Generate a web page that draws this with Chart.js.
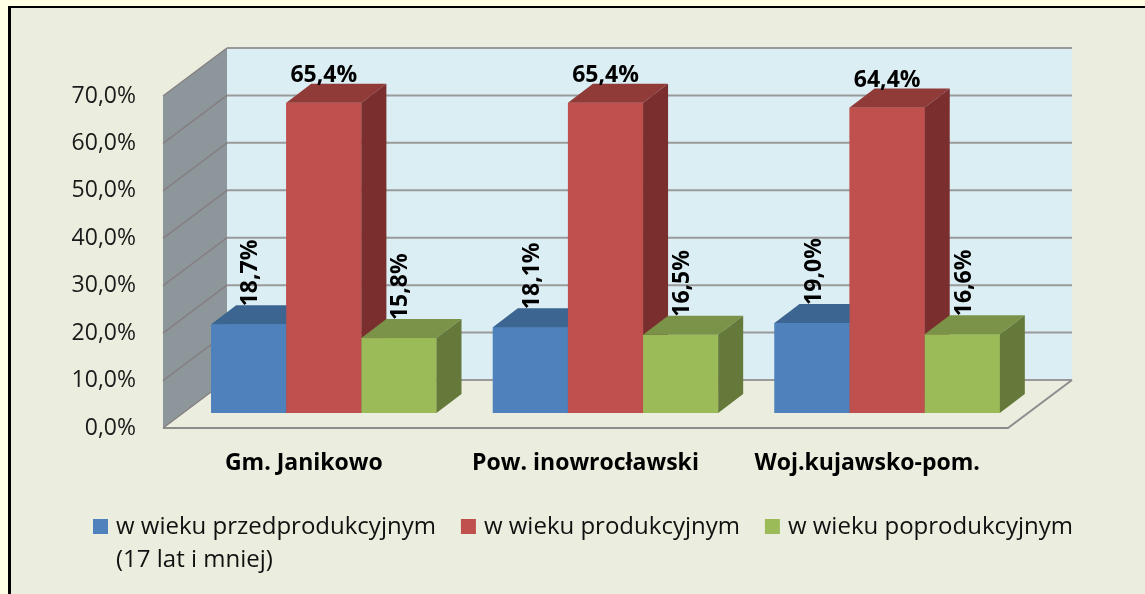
<!DOCTYPE html>
<html>
<head>
<meta charset="utf-8">
<script src="https://cdn.jsdelivr.net/npm/chart.js@4.4.1/dist/chart.umd.min.js"></script>
<style>
  html, body { margin: 0; padding: 0; background: #FFFFE3; overflow: hidden; }
  #ramka { position: absolute; left: 8px; top: 6px; width: 1200px; height: 700px;
           border-left: 3px solid #000; border-top: 2px solid #000; background: #EBEEDE; }
  #wykres { position: absolute; left: 0; top: 0; }
</style>
</head>
<body>
<div id="ramka"></div>
<canvas id="wykres" width="1145" height="594"></canvas>
<script>
const kategorie = ['Gm. Janikowo', 'Pow. inowrocławski', 'Woj.kujawsko-pom.'];
const przedprodukcyjny = [18.7, 18.1, 19.0];
const produkcyjny = [65.4, 65.4, 64.4];
const poprodukcyjny = [15.8, 16.5, 16.6];
const serie = ['w wieku przedprodukcyjnym', 'w wieku produkcyjnym', 'w wieku poprodukcyjnym'];
const dopiski = ['(17 lat i mniej)', '', ''];
const osY = [0, 10, 20, 30, 40, 50, 60, 70];

const kolory = {
    przod: ['#4F81BD', '#C0504D', '#9BBB59'],
    gora: ['#3D6591', '#913B39', '#7A9348'],
    bok: ['#385D86', '#7A2F2E', '#657A3A']
};

// przesuniecia rzutu 3D (plaszczyzna slupkow = chartArea)
const GLEB = { dx: 25, dy: -19 };
const PRZOD = { dx: -20, dy: 15 };
const TYL = { dx: 44, dy: -33 };

const FONT = 'Open Sans';
const proc = v => v.toFixed(1).replace('.', ',') + '%';

const efekt3d = {
    id: 'efekt3d',
    beforeDatasetsDraw(chart) {
        const { ctx, chartArea: a, scales: { y } } = chart;
        const y0 = y.getPixelForValue(0), yMax = y.getPixelForValue(y.max);
        ctx.save();
        // tylna sciana
        ctx.fillStyle = '#DBEEF4';
        ctx.fillRect(a.left + TYL.dx, yMax + TYL.dy, a.right - a.left, y0 - yMax);
        // boczna sciana
        ctx.fillStyle = '#8D979B';
        ctx.beginPath();
        ctx.moveTo(a.left + PRZOD.dx, yMax + PRZOD.dy);
        ctx.lineTo(a.left + TYL.dx, yMax + TYL.dy);
        ctx.lineTo(a.left + TYL.dx, y0 + TYL.dy);
        ctx.lineTo(a.left + PRZOD.dx, y0 + PRZOD.dy);
        ctx.closePath();
        ctx.fill();
        // siatka
        y.ticks.forEach(t => {
            const py = y.getPixelForValue(t.value);
            ctx.strokeStyle = '#9A9A9A';
            ctx.lineWidth = 2;
            ctx.beginPath();
            ctx.moveTo(a.left + TYL.dx, py + TYL.dy);
            ctx.lineTo(a.right + TYL.dx, py + TYL.dy);
            ctx.stroke();
            ctx.strokeStyle = '#867F81';
            ctx.lineWidth = 1.5;
            ctx.beginPath();
            ctx.moveTo(a.left + PRZOD.dx, py + PRZOD.dy);
            ctx.lineTo(a.left + TYL.dx, py + TYL.dy);
            ctx.stroke();
        });
        // podloga
        ctx.strokeStyle = '#8C8C8C';
        ctx.lineWidth = 2;
        ctx.beginPath();
        ctx.moveTo(a.left + PRZOD.dx, y0 + PRZOD.dy);
        ctx.lineTo(a.right + PRZOD.dx, y0 + PRZOD.dy);
        ctx.lineTo(a.right + TYL.dx, y0 + TYL.dy);
        ctx.stroke();
        ctx.restore();
    },
    afterDatasetsDraw(chart) {
        const { ctx } = chart;
        const n = chart.data.datasets.length;
        ctx.save();
        // slupki od lewej do prawej, zeby kolejny przykrywal bok poprzedniego
        kategorie.forEach((k, j) => {
            for (let i = 0; i < n; i++) {
                const el = chart.getDatasetMeta(i).data[j];
                const { x, y, base, width } = el.getProps(['x', 'y', 'base', 'width'], true);
                const l = x - width / 2, r = x + width / 2;
                ctx.fillStyle = kolory.przod[i];
                ctx.fillRect(l, y, width, base - y);
                ctx.fillStyle = kolory.gora[i];
                ctx.beginPath();
                ctx.moveTo(l, y);
                ctx.lineTo(l + GLEB.dx, y + GLEB.dy);
                ctx.lineTo(r + GLEB.dx, y + GLEB.dy);
                ctx.lineTo(r, y);
                ctx.closePath();
                ctx.fill();
                ctx.fillStyle = kolory.bok[i];
                ctx.beginPath();
                ctx.moveTo(r, y);
                ctx.lineTo(r + GLEB.dx, y + GLEB.dy);
                ctx.lineTo(r + GLEB.dx, base + GLEB.dy);
                ctx.lineTo(r, base);
                ctx.closePath();
                ctx.fill();
            }
        });
        // etykiety wartosci
        ctx.fillStyle = '#000';
        ctx.font = 'bold 23px "' + FONT + '"';
        chart.data.datasets.forEach((ds, i) => {
            chart.getDatasetMeta(i).data.forEach((el, j) => {
                const txt = proc(ds.data[j]);
                if (i === 1) {
                    ctx.textAlign = 'center';
                    ctx.textBaseline = 'alphabetic';
                    ctx.fillText(txt, el.x, el.y - 21);
                } else {
                    ctx.save();
                    ctx.translate(el.x + 2, el.y - 18);
                    ctx.rotate(-Math.PI / 2);
                    ctx.textAlign = 'left';
                    ctx.textBaseline = 'middle';
                    ctx.fillText(txt, 0, 0);
                    ctx.restore();
                }
            });
        });
        ctx.restore();
    },
    afterDraw(chart) {
        // legenda
        const { ctx } = chart;
        ctx.save();
        ctx.font = '24px "' + FONT + '"';
        ctx.textAlign = 'left';
        ctx.textBaseline = 'alphabetic';
        let x = 93;
        serie.forEach((s, i) => {
            ctx.fillStyle = kolory.przod[i];
            ctx.fillRect(x, 519, 15, 15);
            ctx.fillStyle = '#111';
            ctx.fillText(s, x + 23, 534);
            if (dopiski[i]) ctx.fillText(dopiski[i], x + 23, 567);
            x += 23 + ctx.measureText(s).width + 25;
        });
        ctx.restore();
    }
};

new Chart(document.getElementById('wykres'), {
    type: 'bar',
    data: {
        labels: kategorie,
        datasets: [
            { label: serie[0], data: przedprodukcyjny, backgroundColor: kolory.przod[0] },
            { label: serie[1], data: produkcyjny, backgroundColor: kolory.przod[1] },
            { label: serie[2], data: poprodukcyjny, backgroundColor: kolory.przod[2] }
        ]
    },
    options: {
        responsive: false,
        animation: false,
        devicePixelRatio: 1,
        layout: { padding: { left: 0, top: 81, right: 117, bottom: 101 } },
        categoryPercentage: 0.8,
        barPercentage: 1.0,
        plugins: { legend: { display: false }, tooltip: { enabled: false } },
        scales: {
            x: {
                grid: { display: false, drawTicks: false },
                border: { display: false },
                ticks: {
                    font: { family: FONT, size: 23, weight: 'bold' },
                    color: '#000', padding: 37, labelOffset: -20,
                    maxRotation: 0, autoSkip: false
                },
                afterFit: s => { s.height = 80; }
            },
            y: {
                min: 0, max: 70,
                grid: { display: false, drawTicks: false },
                border: { display: false },
                afterBuildTicks: s => { s.ticks = osY.map(v => ({ value: v })); },
                ticks: {
                    callback: v => proc(v),
                    font: { family: FONT, size: 23 },
                    color: '#1a1a1a', padding: 47, labelOffset: 15
                },
                afterFit: s => { s.width = 183; }
            }
        }
    },
    plugins: [efekt3d]
});
</script>
</body>
</html>
